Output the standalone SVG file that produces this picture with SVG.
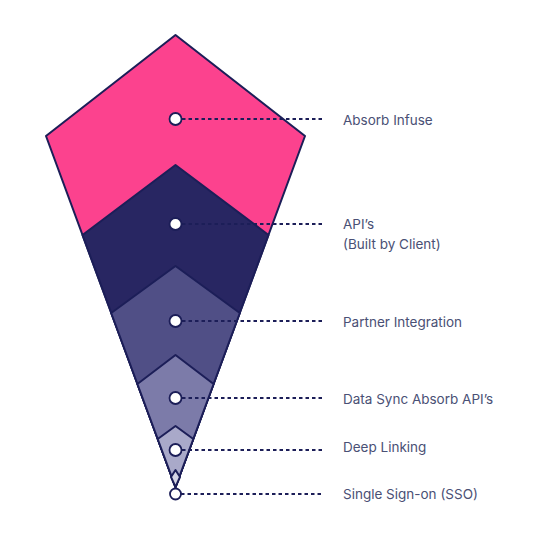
<svg xmlns="http://www.w3.org/2000/svg" width="538" height="540" viewBox="0 0 538 540">
<style>
.layer{stroke:#1C1E58;stroke-width:2;stroke-linejoin:round}
.dot{fill:#FFFFFF;stroke:#1C1E58;stroke-width:1.8}
.lead{stroke:#1C1E58;stroke-width:1.8;stroke-dasharray:3.5 3;fill:none}
.lbl{font-family:Inter,"Noto Sans",sans-serif;font-size:13.5px;fill:#4A5075}
</style>
<rect width="538" height="540" fill="#FFFFFF"/>
<g id="layer-absorb-infuse"><polygon class="layer" fill="#FC428E" points="175.5,35 46,136 175.5,487 305,136"/></g>
<g id="layer-apis"><polygon class="layer" fill="#282662" points="175.5,165 82.5,235 175.5,487 268.5,235"/></g>
<g id="layer-partner"><polygon class="layer" fill="#504F86" points="175.5,266 111.2,313 175.5,487 239.8,313"/></g>
<g id="layer-datasync"><polygon class="layer" fill="#7C7BA9" points="175.5,355 137.4,384 175.5,487 213.6,384"/></g>
<g id="layer-deeplinking"><polygon class="layer" fill="#A9A9C9" points="175.5,426 157.7,439 175.5,487 193.3,439"/></g>
<g id="layer-sso"><polygon class="layer" fill="#D4D4E4" points="175.5,470 171,477 175.5,487 180,477"/></g>
<g id="connectors">
<line class="lead" x1="182" y1="119" x2="323" y2="119"/>
<line class="lead" x1="182" y1="224" x2="323" y2="224"/>
<line class="lead" x1="182" y1="321" x2="323" y2="321"/>
<line class="lead" x1="182" y1="398" x2="323" y2="398"/>
<line class="lead" x1="182" y1="450" x2="323" y2="450"/>
<line class="lead" x1="181" y1="494" x2="323" y2="494"/>
</g>
<g id="dots">
<circle class="dot" cx="175.5" cy="119" r="6"/>
<circle class="dot" cx="175.5" cy="224" r="6"/>
<circle class="dot" cx="175.5" cy="321" r="6"/>
<circle class="dot" cx="175.5" cy="398" r="6"/>
<circle class="dot" cx="175.5" cy="450" r="6"/>
<circle class="dot" cx="175.5" cy="494" r="5.5"/>
</g>
<g id="labels">
<text class="lbl" x="343" y="125">Absorb Infuse</text>
<text class="lbl" x="343" y="229">API’s</text>
<text class="lbl" x="343" y="249">(Built by Client)</text>
<text class="lbl" x="343" y="327">Partner Integration</text>
<text class="lbl" x="343" y="404">Data Sync Absorb API’s</text>
<text class="lbl" x="343" y="452">Deep Linking</text>
<text class="lbl" x="343" y="499">Single Sign-on (SSO)</text>
</g>
</svg>
